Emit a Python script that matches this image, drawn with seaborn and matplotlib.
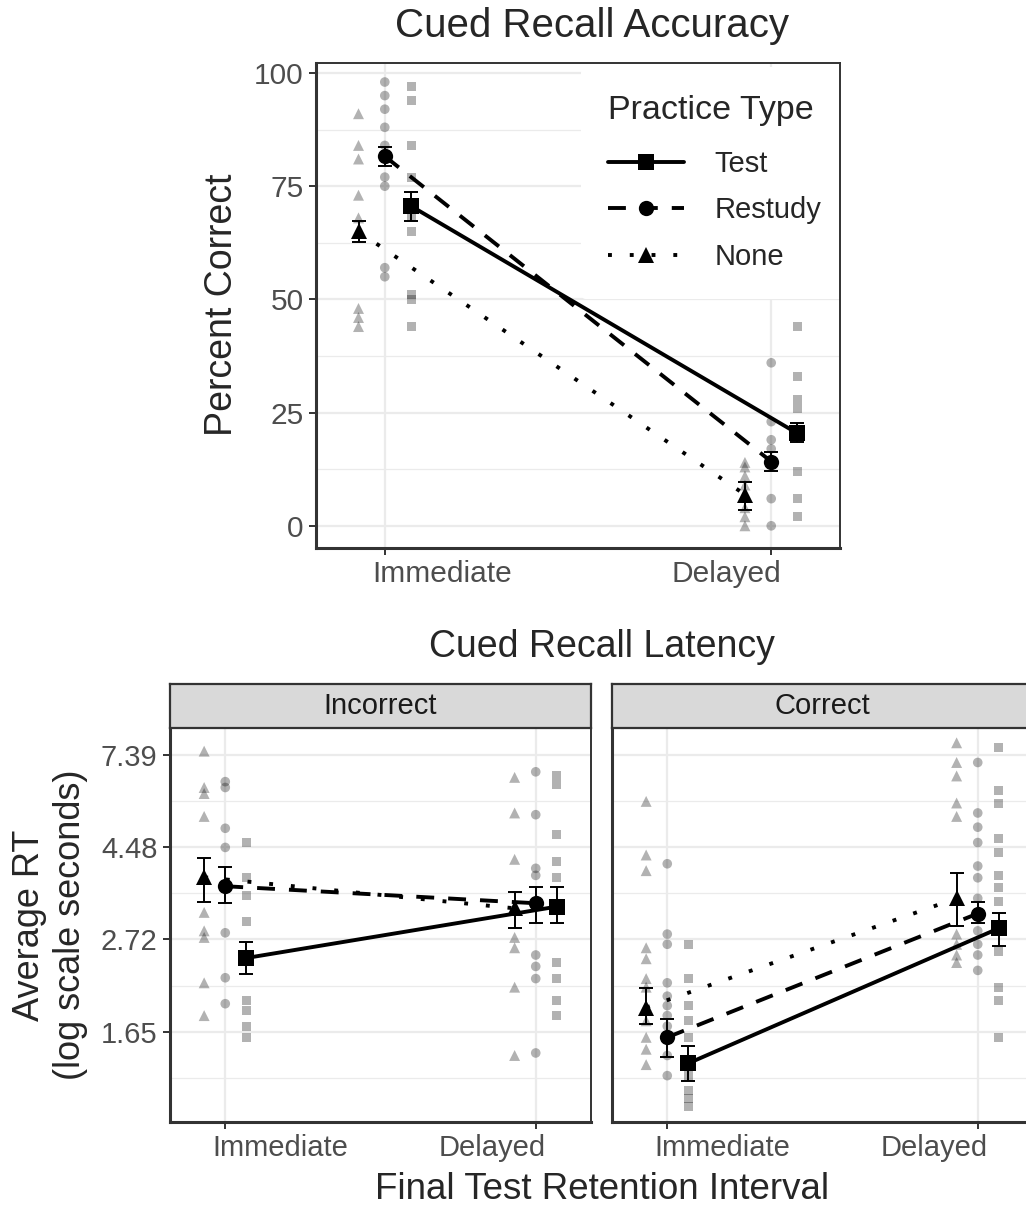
import numpy as np
import pandas as pd
import matplotlib
matplotlib.use("Agg")
import matplotlib.pyplot as plt
from matplotlib.lines import Line2D
from matplotlib.transforms import ScaledTranslation
import seaborn as sns


# ---- data ----
intervals = ["Immediate", "Delayed"]
types = ["Test", "Restudy", "None"]

# accuracy: individual points (percent correct)
acc_test_imm = [97, 94, 84, 77, 68, 65, 51, 50, 44]
acc_test_del = [44, 33, 28, 26, 12, 6, 2]
acc_restudy_imm = [98, 95, 92, 88, 84, 77, 75, 57, 55]
acc_restudy_del = [36, 23, 19, 17, 6, 0]
acc_none_imm = [91, 84, 81, 73, 68, 48, 46, 44]
acc_none_del = [14, 13, 11, 9, 4, 2, 0]

# accuracy: means and error bar ends (Immediate, Delayed)
acc_mean_test = [70.6, 20.4]
acc_lo_test = [67.3, 18.4]
acc_hi_test = [73.7, 22.8]
acc_mean_restudy = [81.6, 14.2]
acc_lo_restudy = [79.4, 12.0]
acc_hi_restudy = [83.6, 16.2]
acc_mean_none = [65.0, 6.9]
acc_lo_none = [62.6, 3.6]
acc_hi_none = [67.2, 9.7]

# latency: individual points (seconds), Incorrect facet
inc_test_imm = [4.6, 3.8, 3.45, 3.0, 1.95, 1.85, 1.7, 1.6]
inc_test_del = [6.6, 6.3, 4.8, 4.15, 3.8, 2.4, 2.2, 1.95, 1.8]
inc_restudy_imm = [6.4, 6.2, 4.97, 4.48, 2.82, 2.21, 1.92]
inc_restudy_del = [6.75, 5.35, 4.0, 3.85, 2.5, 2.35, 2.2, 1.47]
inc_none_imm = [7.55, 6.2, 6.0, 5.3, 3.15, 2.85, 2.75, 2.15, 1.8]
inc_none_del = [6.55, 5.4, 4.2, 2.75, 2.6, 2.1, 1.45]

# latency: individual points (seconds), Correct facet
cor_test_imm = [2.65, 2.2, 1.9, 1.75, 1.6, 1.3, 1.2, 1.15, 1.1]
cor_test_del = [7.7, 6.1, 5.7, 4.7, 4.35, 3.85, 3.6, 3.35, 2.55, 2.1, 1.95, 1.6]
cor_restudy_imm = [4.1, 2.8, 2.65, 2.15, 2.0, 1.9, 1.8, 1.7, 1.45, 1.3]
cor_restudy_del = [7.1, 5.4, 5.0, 4.6, 4.05, 3.8, 3.4, 2.85, 2.65, 2.5, 2.3]
cor_none_imm = [5.75, 4.3, 3.95, 2.6, 2.45, 2.2, 2.1, 1.9, 1.75, 1.6, 1.5, 1.38]
cor_none_del = [7.9, 7.1, 6.6, 5.7, 5.3, 2.8, 2.65, 2.5, 2.4]

# latency means and error bar ends (Immediate, Delayed)
inc_mean_test = [2.46, 3.25]
inc_lo_test = [2.26, 2.97]
inc_hi_test = [2.69, 3.61]
inc_mean_restudy = [3.63, 3.31]
inc_lo_restudy = [3.31, 2.97]
inc_hi_restudy = [4.02, 3.61]
inc_mean_none = [3.81, 3.22]
inc_lo_none = [3.34, 2.89]
inc_hi_none = [4.22, 3.51]

cor_mean_test = [1.39, 2.89]
cor_lo_test = [1.26, 2.62]
cor_hi_test = [1.53, 3.14]
cor_mean_restudy = [1.60, 3.13]
cor_lo_restudy = [1.44, 2.97]
cor_hi_restudy = [1.77, 3.34]
cor_mean_none = [1.88, 3.40]
cor_lo_none = [1.72, 2.93]
cor_hi_none = [2.09, 3.91]

rt_ticks = [1.65, 2.72, 4.48, 7.39]
acc_ticks = [0, 25, 50, 75, 100]


# ---- styling ----
sns.set_theme(style="white")
plt.rcParams["font.family"] = ["Liberation Sans", "DejaVu Sans"]

dodge = {"None": -0.068, "Restudy": 0.0, "Test": 0.068}
marker_map = {"Test": "s", "Restudy": "o", "None": "^"}
size_map = {"Test": 42, "Restudy": 48, "None": 62}
dash_map = {"Test": "", "Restudy": (4.6, 3.6), "None": (1, 4.6)}
ls_map = {"Test": "-", "Restudy": (0, (4.6, 3.6)), "None": (0, (1, 4.6))}
grid_col = "#ebebeb"
frame_col = "#333333"
tick_col = "#4d4d4d"
LW = 2.8


def raw_frame(lists):
    rows = []
    for t, (imm, dly) in lists.items():
        for i, vals in enumerate([imm, dly]):
            for v in vals:
                rows.append({"type": t, "x": i + dodge[t], "value": v})
    return pd.DataFrame(rows)


def mean_frame(means, los, his):
    rows = []
    for t in types:
        for i in range(2):
            rows.append({"type": t, "x": i + dodge[t], "mean": means[t][i],
                         "lo": los[t][i], "hi": his[t][i]})
    return pd.DataFrame(rows)


def draw_panel(ax, raw, means, tick_size=21):
    sns.scatterplot(data=raw, x="x", y="value", style="type", markers=marker_map,
                    size="type", sizes=size_map, color="black", alpha=0.3,
                    linewidth=0, legend=False, ax=ax, zorder=2)
    ax.errorbar(means["x"], means["mean"],
                yerr=[means["mean"] - means["lo"], means["hi"] - means["mean"]],
                fmt="none", ecolor="black", elinewidth=1.4, capsize=5,
                capthick=1.4, zorder=3)
    sns.lineplot(data=means, x="x", y="mean", style="type", dashes=dash_map,
                 markers=marker_map, color="black", linewidth=LW, markersize=11,
                 markeredgewidth=0, estimator=None, legend=False, ax=ax, zorder=4)
    ax.set_xlim(-0.178, 1.178)
    ax.set_xticks([0, 1])
    ax.set_xticklabels(intervals)
    ax.set_xlabel("")
    ax.set_ylabel("")
    ax.grid(True, which="major", color=grid_col, lw=1.6, zorder=0)
    ax.grid(True, which="minor", axis="y", color=grid_col, lw=0.9, zorder=0)
    ax.set_axisbelow(True)
    ax.tick_params(axis="both", which="major", labelsize=tick_size, labelcolor=tick_col,
                   color=frame_col, length=5, width=1.4, pad=4, bottom=True, left=True)
    ax.tick_params(axis="both", which="minor", length=0)
    for side, sp in ax.spines.items():
        sp.set_color(frame_col)
        sp.set_linewidth(2.2 if side in ("left", "bottom") else 1.4)
    # x labels sit just inside the ticks, as in the reference
    for lab, ha, dx in zip(ax.get_xticklabels(), ["left", "right"], [-13, 10]):
        lab.set_ha(ha)
        lab.set_transform(lab.get_transform() + ScaledTranslation(dx / 100, 0, fig.dpi_scale_trans))


fig = plt.figure(figsize=(10.26, 12.08), dpi=100)
W, H = 1026, 1208


def box(l, t, r, b):
    return [l / W, 1 - b / H, (r - l) / W, (b - t) / H]


# ---- accuracy panel ----
ax_acc = fig.add_axes(box(316, 63, 840, 548))
acc_raw = raw_frame({"Test": (acc_test_imm, acc_test_del),
                     "Restudy": (acc_restudy_imm, acc_restudy_del),
                     "None": (acc_none_imm, acc_none_del)})
acc_means = mean_frame({"Test": acc_mean_test, "Restudy": acc_mean_restudy, "None": acc_mean_none},
                       {"Test": acc_lo_test, "Restudy": acc_lo_restudy, "None": acc_lo_none},
                       {"Test": acc_hi_test, "Restudy": acc_hi_restudy, "None": acc_hi_none})
ax_acc.set_yticks(acc_ticks)
ax_acc.set_yticks([12.5, 37.5, 62.5, 87.5], minor=True)
draw_panel(ax_acc, acc_raw, acc_means, tick_size=21.5)
ax_acc.set_ylim(-4.9, 102.2)

handles = [Line2D([], [], color="black", lw=LW, linestyle=ls_map[t], marker=marker_map[t],
                  markersize=11, markeredgewidth=0) for t in types]
leg = ax_acc.legend(handles, types, title="Practice Type", loc="upper left",
                    bbox_to_anchor=(0.505, 0.992), borderaxespad=0, frameon=True,
                    facecolor="white", edgecolor="none", framealpha=1, fontsize=21,
                    title_fontsize=24.5, handlelength=2.6, handletextpad=1.05,
                    labelspacing=0.64, borderpad=0.95, alignment="left")
leg._legend_box.sep = 0.64 * 21 + 4
leg.set_zorder(2.45)  # above the grid, below the panel border

fig.text(592 / W, 1 - 37 / H, "Cued Recall Accuracy", ha="center", va="baseline", fontsize=29)
fig.text(222 / W, 1 - 305 / H, "Percent Correct", ha="center", va="center",
         rotation=90, fontsize=27)

# ---- latency panels ----
panels = [
    ("Incorrect", 170, 591,
     {"Test": (inc_test_imm, inc_test_del), "Restudy": (inc_restudy_imm, inc_restudy_del),
      "None": (inc_none_imm, inc_none_del)},
     ({"Test": inc_mean_test, "Restudy": inc_mean_restudy, "None": inc_mean_none},
      {"Test": inc_lo_test, "Restudy": inc_lo_restudy, "None": inc_lo_none},
      {"Test": inc_hi_test, "Restudy": inc_hi_restudy, "None": inc_hi_none})),
    ("Correct", 612, 1033,
     {"Test": (cor_test_imm, cor_test_del), "Restudy": (cor_restudy_imm, cor_restudy_del),
      "None": (cor_none_imm, cor_none_del)},
     ({"Test": cor_mean_test, "Restudy": cor_mean_restudy, "None": cor_mean_none},
      {"Test": cor_lo_test, "Restudy": cor_lo_restudy, "None": cor_lo_none},
      {"Test": cor_hi_test, "Restudy": cor_hi_restudy, "None": cor_hi_none})),
]

for k, (name, left, right, raw_lists, mean_lists) in enumerate(panels):
    ax = fig.add_axes(box(left, 728, right, 1122))
    ax.set_yscale("log")
    draw_panel(ax, raw_frame(raw_lists), mean_frame(*mean_lists))
    ax.set_ylim(1.011, 8.56)
    ax.set_yticks(rt_ticks)
    ax.set_yticklabels([f"{v:.2f}" for v in rt_ticks])
    ax.set_yticks(list(np.exp([0.25, 0.75, 1.25, 1.75])), minor=True)
    ax.yaxis.set_minor_formatter(matplotlib.ticker.NullFormatter())
    ax.grid(True, which="minor", axis="y", color=grid_col, lw=0.9, zorder=0)
    if k > 0:
        ax.tick_params(axis="y", left=False, labelleft=False)

    strip = fig.add_axes(box(left, 684, right, 728))
    strip.set_facecolor("#d9d9d9")
    strip.set_xticks([])
    strip.set_yticks([])
    for sp in strip.spines.values():
        sp.set_color(frame_col)
        sp.set_linewidth(1.6)
    strip.text(0.5, 0.5, name, ha="center", va="center", fontsize=21,
               color="#1a1a1a", transform=strip.transAxes)

fig.text(602 / W, 1 - 657 / H, "Cued Recall Latency", ha="center", va="baseline", fontsize=27)
fig.text(602 / W, 1 - 1199 / H, "Final Test Retention Interval", ha="center",
         va="baseline", fontsize=26.5)
fig.text(50 / W, 1 - 925 / H, "Average RT\n(log scale seconds)", ha="center",
         va="center", rotation=90, fontsize=26, multialignment="center")

fig.savefig("out.png", dpi=100)
